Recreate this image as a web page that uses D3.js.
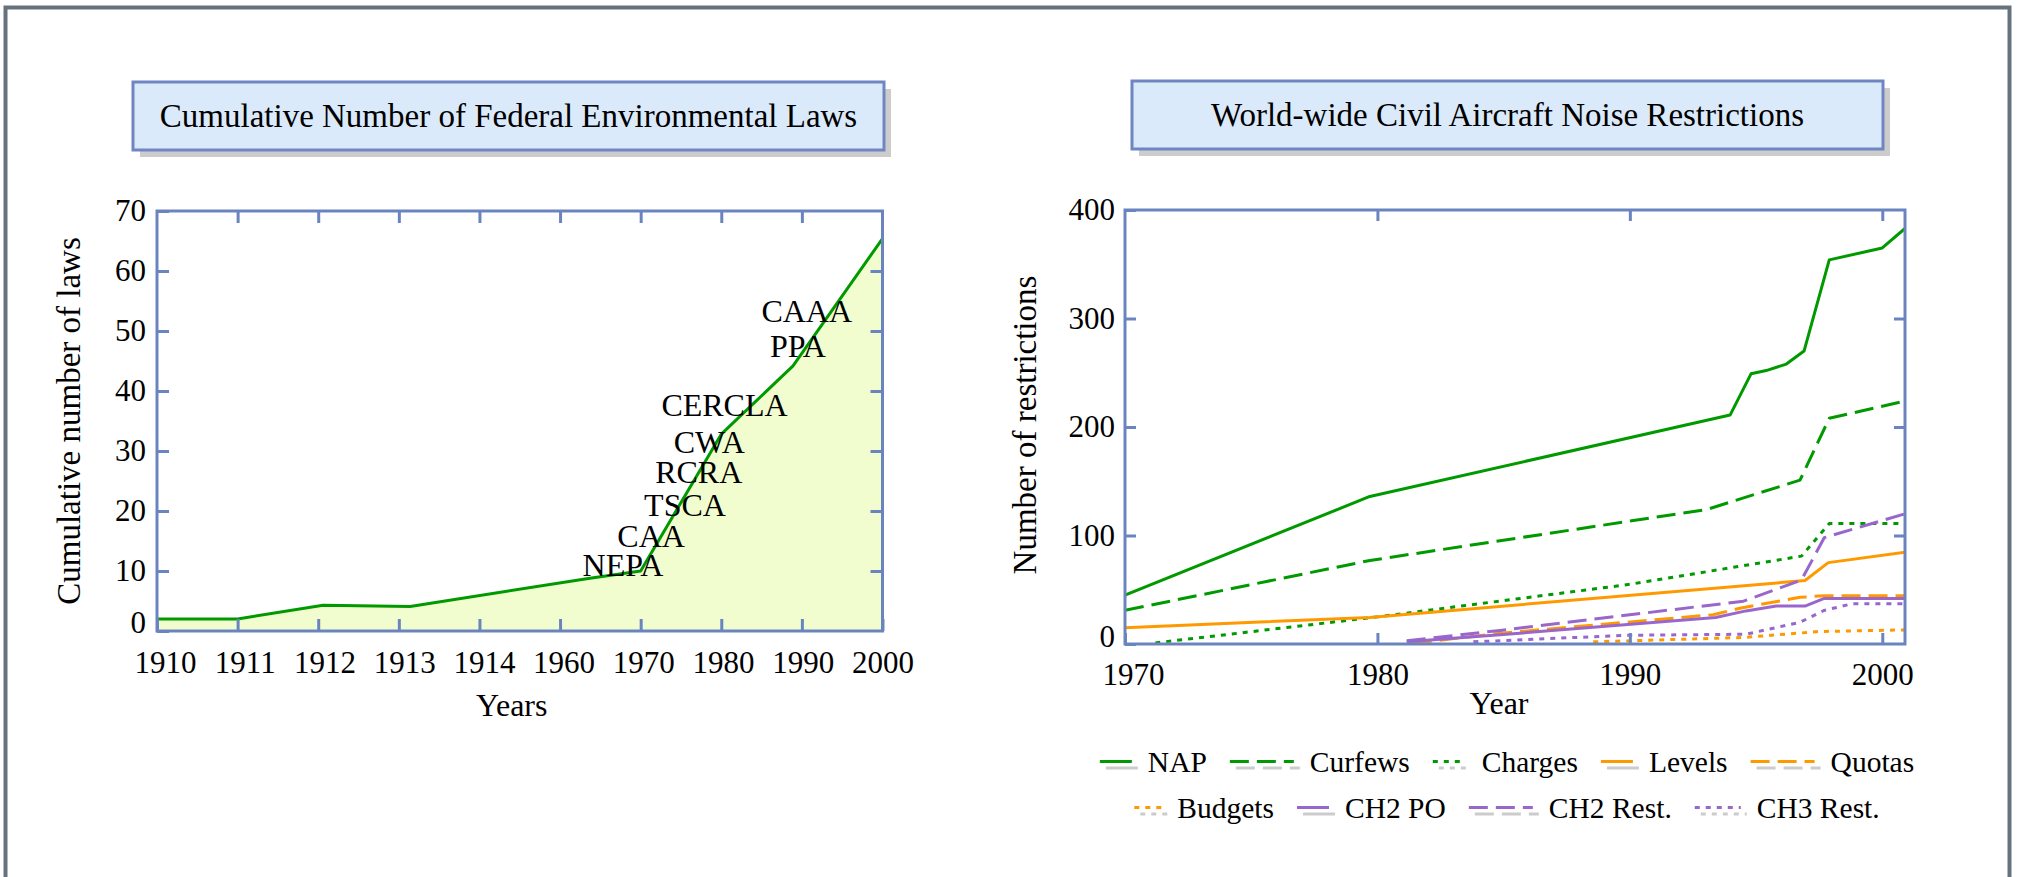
<!DOCTYPE html>
<html>
<head>
<meta charset="utf-8">
<script src="https://cdn.jsdelivr.net/npm/d3@7"></script>
<style>
    body { margin: 0; background: #fff; }
    svg { display: block; font-family: "Liberation Serif", "Times New Roman", serif; }
</style>
</head>
<body>
<svg id="chart"></svg>
<script>
const width = 2019;
const height = 877;

// ---- left chart data ----
const lawTickYears = [1910, 1911, 1912, 1913, 1914, 1960, 1970, 1980, 1990, 2000];
const lawCountTicks = [0, 10, 20, 30, 40, 50, 60, 70];
const lawPointYears = [1910, 1911, 1912.06, 1913.14, 1963.7, 1970, 1980, 1988.9, 2000];
const lawCounts = [2, 2, 4.3, 4.1, 8.8, 10, 32.8, 44.2, 65.4];
const lawNames = ["NEPA", "CAA", "TSCA", "RCRA", "CWA", "CERCLA", "PPA", "CAAA"];
const lawNameYears = [1967.8, 1971.3, 1975.5, 1977.2, 1978.5, 1980.4, 1989.5, 1990.6];
const lawNameCounts = [9.1, 14.0, 19.1, 24.6, 29.6, 35.9, 45.6, 51.5];

// ---- right chart data ----
const noiseYearTicks = [1970, 1980, 1990, 2000];
const noiseValueTicks = [0, 100, 200, 300, 400];
const noiseSeries = ["NAP", "Curfews", "Charges", "Levels", "Quotas", "Budgets", "CH2 PO", "CH2 Rest.", "CH3 Rest."];
const napData = [[1970, 45], [1979.7, 136], [1993.97, 211], [1994.8, 249], [1995.4, 252], [1996.2, 258], [1996.9, 270], [1997.9, 354], [2000, 365], [2000.9, 383]];
const curfewsData = [[1970, 31], [1979.7, 77], [1993.05, 124], [1996.74, 151], [1997.9, 208], [2000.9, 224]];
const chargesData = [[1971.2, 1], [1980, 25], [1990, 55], [1996.8, 81], [1997.9, 111], [2000.9, 111]];
const levelsData = [[1970, 15], [1979.7, 24.5], [1996.94, 58.5], [1997.86, 75], [2000.9, 84.5]];
const quotasData = [[1981.4, 0.5], [1984.9, 10], [1993.3, 27], [1994.36, 33], [1996.74, 43], [1997.7, 44.5], [2000.9, 44.5]];
const budgetsData = [[1988.55, 2], [1994.5, 6], [1997.5, 11.5], [2000.9, 13]];
const ch2PoData = [[1981.16, 2], [1984.86, 8.5], [1993.4, 24.5], [1994.6, 30.5], [1995.8, 35], [1996.94, 35], [1997.7, 42], [2000.9, 42]];
const ch2RestData = [[1981.16, 3], [1984.86, 12.5], [1994.5, 39.5], [1996.8, 59], [1997.7, 98], [2000.9, 120]];
const ch3RestData = [[1983.8, 2], [1989.85, 8], [1994.6, 9], [1996.74, 20], [1997.7, 31], [1998.8, 37], [2000.9, 37]];
const noiseData = [napData, curfewsData, chargesData, levelsData, quotasData, budgetsData, ch2PoData, ch2RestData, ch3RestData];

// styles
const green = "#009900", orange = "#ff9900", purple = "#9966cc";
const axisColor = "#6a84c0";
const dashed = "19,8", dotted = "5,6";
const seriesStyle = [
    { color: green, dash: null, swatch: 32 },
    { color: green, dash: dashed, swatch: 64 },
    { color: green, dash: dotted, swatch: 33 },
    { color: orange, dash: null, swatch: 32 },
    { color: orange, dash: dashed, swatch: 64 },
    { color: orange, dash: dotted, swatch: 27 },
    { color: purple, dash: null, swatch: 32 },
    { color: purple, dash: dashed, swatch: 64 },
    { color: purple, dash: dotted, swatch: 46 },
];

const svg = d3.select("#chart").attr("width", width).attr("height", height);
svg.append("rect").attr("width", width).attr("height", height).attr("fill", "#fff");

// outer frame (bottom runs off the page)
svg.append("rect")
    .attr("x", 5.5).attr("y", 7.5)
    .attr("width", 2004).attr("height", 920)
    .attr("fill", "none").attr("stroke", "#66727c").attr("stroke-width", 4);

const drawTitle = (x0, y0, w, h, label) => {
    svg.append("rect").attr("x", x0 + 7).attr("y", y0 + 7).attr("width", w).attr("height", h).attr("fill", "#cccccc");
    svg.append("rect").attr("x", x0).attr("y", y0).attr("width", w).attr("height", h)
        .attr("fill", "#dbeafb").attr("stroke", "#6f86c2").attr("stroke-width", 3);
    svg.append("text").attr("x", x0 + w / 2).attr("y", y0 + h / 2 + 11)
        .attr("text-anchor", "middle").attr("font-size", 33).attr("fill", "#000")
        .text(label);
};

const styleAxis = (g, fontSize) => {
    g.select(".domain").remove();
    g.selectAll(".tick line").attr("stroke", axisColor).attr("stroke-width", 3);
    g.selectAll(".tick text").attr("font-size", fontSize).attr("fill", "#000")
        .attr("font-family", "Liberation Serif, Times New Roman, serif");
};

const drawFrame = (box) => {
    svg.append("rect")
        .attr("x", box.x0).attr("y", box.y0)
        .attr("width", box.x1 - box.x0).attr("height", box.y1 - box.y0)
        .attr("fill", "none").attr("stroke", axisColor).attr("stroke-width", 3);
};

// ================= LEFT CHART =================
const lb = { x0: 157, x1: 882.5, y0: 211, y1: 631 };
drawTitle(133, 82, 751, 68, "Cumulative Number of Federal Environmental Laws");

const step = (lb.x1 - lb.x0) / (lawTickYears.length - 1);
const xL = d3.scaleLinear()
    .domain(lawTickYears)
    .range(lawTickYears.map((d, i) => lb.x0 + i * step));
const yL = d3.scaleLinear().domain([0, 70]).range([lb.y1, lb.y0]);

const lawPoints = lawPointYears.map((d, i) => ({ year: d, count: lawCounts[i] }));

const gL = svg.append("g");
gL.append("path")
    .datum(lawPoints)
    .attr("fill", "#f1fdcf")
    .attr("d", d3.area().x((d) => xL(d.year)).y0(yL(0)).y1((d) => yL(d.count)));
gL.append("path")
    .datum(lawPoints)
    .attr("fill", "none").attr("stroke", green).attr("stroke-width", 3)
    .attr("stroke-linejoin", "round")
    .attr("d", d3.line().x((d) => xL(d.year)).y((d) => yL(d.count)));

gL.selectAll(".lawname")
    .data(lawNames)
    .join("text")
    .attr("class", "lawname")
    .attr("x", (d, i) => xL(lawNameYears[i]))
    .attr("y", (d, i) => yL(lawNameCounts[i]))
    .attr("text-anchor", "middle")
    .attr("font-size", 32)
    .text((d) => d);

// axes
const nTicks = lawTickYears.length - 1;
gL.append("g")
    .attr("transform", `translate(0,${lb.y1})`)
    .call(d3.axisBottom(xL).tickValues(lawTickYears).tickFormat(d3.format("d")).tickSize(-12).tickPadding(20))
    .call((g) => styleAxis(g, 31))
    .call((g) => g.selectAll(".tick text").attr("x", (d, i) => 8 * (1 - i / nTicks)));
gL.append("g")
    .attr("transform", `translate(0,${lb.y0})`)
    .call(d3.axisTop(xL).tickValues(lawTickYears.slice(1, -1)).tickFormat("").tickSize(-12))
    .call((g) => styleAxis(g, 31));
gL.append("g")
    .attr("transform", `translate(${lb.x0},0)`)
    .call(d3.axisLeft(yL).tickValues(lawCountTicks).tickSize(-12).tickPadding(11))
    .call((g) => styleAxis(g, 31))
    .call((g) => g.selectAll(".tick text").filter((d) => d === 0).attr("y", -8));
gL.append("g")
    .attr("transform", `translate(${lb.x1},0)`)
    .call(d3.axisRight(yL).tickValues(lawCountTicks.slice(1, -1)).tickFormat("").tickSize(-12))
    .call((g) => styleAxis(g, 31));
drawFrame(lb);

gL.append("text")
    .attr("x", (lb.x0 + lb.x1) / 2 - 8).attr("y", 716)
    .attr("text-anchor", "middle").attr("font-size", 32)
    .text("Years");
gL.append("text")
    .attr("transform", `translate(80,${(lb.y0 + lb.y1) / 2}) rotate(-90)`)
    .attr("text-anchor", "middle").attr("font-size", 33)
    .text("Cumulative number of laws");

// ================= RIGHT CHART =================
const rb = { x0: 1125, x1: 1905, y0: 210, y1: 644 };
drawTitle(1132, 81, 751, 68, "World-wide Civil Aircraft Noise Restrictions");

const xR = d3.scaleLinear().domain([1970, 2000.9]).range([rb.x0, rb.x1]);
const yR = d3.scaleLinear().domain([0, 400]).range([rb.y1, rb.y0]);

svg.append("clipPath").attr("id", "clipR")
    .append("rect").attr("x", rb.x0).attr("y", rb.y0)
    .attr("width", rb.x1 - rb.x0).attr("height", rb.y1 - rb.y0);

const gR = svg.append("g");
const lineR = d3.line().x((d) => xR(d[0])).y((d) => yR(d[1]));
gR.append("g")
    .attr("clip-path", "url(#clipR)")
    .selectAll("path")
    .data(noiseData)
    .join("path")
    .attr("fill", "none")
    .attr("stroke", (d, i) => seriesStyle[i].color)
    .attr("stroke-width", 3)
    .attr("stroke-dasharray", (d, i) => seriesStyle[i].dash)
    .attr("stroke-linejoin", "round")
    .attr("d", lineR);

gR.append("g")
    .attr("transform", `translate(0,${rb.y1})`)
    .call(d3.axisBottom(xR).tickValues(noiseYearTicks).tickFormat(d3.format("d")).tickSize(-11).tickPadding(19))
    .call((g) => styleAxis(g, 31))
    .call((g) => g.selectAll(".tick text").filter((d) => d === 1970).attr("x", 8));
gR.append("g")
    .attr("transform", `translate(0,${rb.y0})`)
    .call(d3.axisTop(xR).tickValues(noiseYearTicks.slice(1)).tickFormat("").tickSize(-11))
    .call((g) => styleAxis(g, 31));
gR.append("g")
    .attr("transform", `translate(${rb.x0},0)`)
    .call(d3.axisLeft(yR).tickValues(noiseValueTicks).tickSize(-11).tickPadding(10))
    .call((g) => styleAxis(g, 31))
    .call((g) => g.selectAll(".tick text").filter((d) => d === 0).attr("y", -7));
gR.append("g")
    .attr("transform", `translate(${rb.x1},0)`)
    .call(d3.axisRight(yR).tickValues(noiseValueTicks.slice(1, -1)).tickFormat("").tickSize(-11))
    .call((g) => styleAxis(g, 31));
drawFrame(rb);

gR.append("text")
    .attr("x", (rb.x0 + rb.x1) / 2 - 16).attr("y", 714)
    .attr("text-anchor", "middle").attr("font-size", 32)
    .text("Year");
gR.append("text")
    .attr("transform", `translate(1036,${(rb.y0 + rb.y1) / 2 - 2}) rotate(-90)`)
    .attr("text-anchor", "middle").attr("font-size", 33)
    .text("Number of restrictions");

// legend: two centred rows
const legendRows = [[0, 1, 2, 3, 4], [5, 6, 7, 8]];
const legendBaselines = [772, 818];
const legendCenter = 1507;
const swatchGap = 16, itemGap = 23;
const legend = svg.append("g");

legendRows.forEach((row, r) => {
    const base = legendBaselines[r];
    const items = row.map((i) => {
        const item = legend.append("g");
        const st = seriesStyle[i];
        const ly = base - 10.5;
        item.append("line")
            .attr("x1", 6).attr("x2", st.swatch + 6).attr("y1", ly + 6.5).attr("y2", ly + 6.5)
            .attr("stroke", "#cccccc").attr("stroke-width", 3).attr("stroke-dasharray", st.dash);
        item.append("line")
            .attr("x1", 0).attr("x2", st.swatch).attr("y1", ly).attr("y2", ly)
            .attr("stroke", st.color).attr("stroke-width", 3).attr("stroke-dasharray", st.dash);
        const t = item.append("text")
            .attr("x", st.swatch + swatchGap).attr("y", base)
            .attr("font-size", 29.5)
            .text(noiseSeries[i]);
        const w = st.swatch + swatchGap + t.node().getComputedTextLength();
        return { item, w };
    });
    const total = d3.sum(items, (d) => d.w) + itemGap * (items.length - 1);
    let cursor = legendCenter - total / 2;
    items.forEach((d) => {
        d.item.attr("transform", `translate(${cursor},0)`);
        cursor += d.w + itemGap;
    });
});
</script>
</body>
</html>
